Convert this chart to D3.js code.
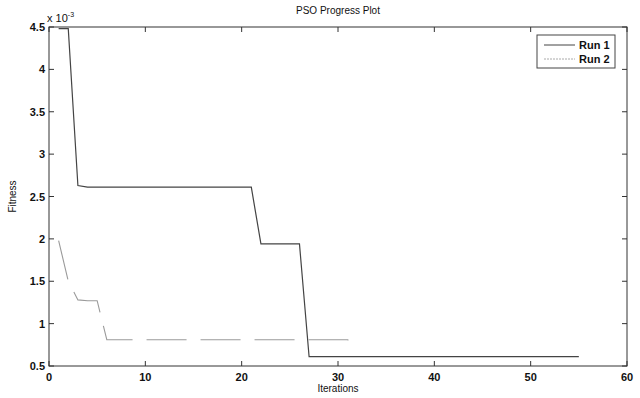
<!DOCTYPE html>
<html><head><meta charset="utf-8">
<script src="https://cdn.jsdelivr.net/npm/d3@7"></script>
<style>body{margin:0;background:#fff}svg text{font-family:"Liberation Sans",Arial,sans-serif;fill:#111}</style>
</head><body><svg id="c" width="640" height="398"></svg>
<script>
const run1X = [1, 2, 3, 4, 21, 22, 26, 27, 55];
const run1Y = [4.48, 4.48, 2.63, 2.61, 2.61, 1.94, 1.94, 0.61, 0.61];
const run2X = [1, 2, 3, 4, 5, 6, 31, 32];
const run2Y = [1.98, 1.50, 1.28, 1.27, 1.27, 0.81, 0.81, 0.74];
const xTicks = [0, 10, 20, 30, 40, 50, 60];
const yTicks = [0.5, 1, 1.5, 2, 2.5, 3, 3.5, 4, 4.5];
const seriesNames = ["Run 1", "Run 2"];

const svg = d3.select("#c");
const L = 49, R = 627, T = 27, B = 366;
const x = d3.scaleLinear().domain([0, 60]).range([L, R]);
const y = d3.scaleLinear().domain([0.5, 4.5]).range([B, T]);

svg.append("rect").attr("x", L).attr("y", T).attr("width", R - L).attr("height", B - T)
  .attr("fill", "none").attr("stroke", "#333").attr("stroke-width", 1);

const tl = 5;
const fmtY = d => d3.format("~g")(d);
// x ticks
xTicks.forEach(t => {
  svg.append("line").attr("x1", x(t)).attr("x2", x(t)).attr("y1", B).attr("y2", B - tl).attr("stroke", "#333");
  svg.append("line").attr("x1", x(t)).attr("x2", x(t)).attr("y1", T).attr("y2", T + tl).attr("stroke", "#333");
  svg.append("text").attr("x", x(t)).attr("y", B + 15).attr("text-anchor", "middle")
    .attr("font-size", 11).attr("font-weight", "bold").text(t);
});
yTicks.forEach(t => {
  svg.append("line").attr("x1", L).attr("x2", L + tl).attr("y1", y(t)).attr("y2", y(t)).attr("stroke", "#333");
  svg.append("line").attr("x1", R).attr("x2", R - tl).attr("y1", y(t)).attr("y2", y(t)).attr("stroke", "#333");
  svg.append("text").attr("x", L - 4).attr("y", y(t) + 4).attr("text-anchor", "end")
    .attr("font-size", 11).attr("font-weight", "bold").text(fmtY(t));
});

// exponent label
const ex = svg.append("text").attr("x", L - 2).attr("y", 22).attr("font-size", 11);
ex.append("tspan").text("x 10");
ex.append("tspan").attr("dy", -5).attr("font-size", 7).text("-3");

svg.append("text").attr("x", (L + R) / 2).attr("y", 14).attr("text-anchor", "middle")
  .attr("font-size", 10).text("PSO Progress Plot");
svg.append("text").attr("x", (L + R) / 2).attr("y", 392).attr("text-anchor", "middle")
  .attr("font-size", 10).text("Iterations");
svg.append("text").attr("transform", `translate(16,${(T + B) / 2}) rotate(-90)`).attr("text-anchor", "middle")
  .attr("font-size", 10).text("Fitness");

const line = d3.line().x(d => x(d[0])).y(d => y(d[1]));
const d1 = run1X.map((v, i) => [v, run1Y[i]]);
const d2 = run2X.map((v, i) => [v, run2Y[i]]);
svg.append("path").attr("d", line(d1)).attr("fill", "none").attr("stroke", "#444").attr("stroke-width", 1.2);
svg.append("path").attr("d", line(d2)).attr("fill", "none").attr("stroke", "#9a9a9a").attr("stroke-width", 1.1)
  .attr("stroke-dasharray", "40,14");

// legend
const lg = svg.append("g");
lg.append("rect").attr("x", 537).attr("y", 35).attr("width", 78).attr("height", 33)
  .attr("fill", "#fff").attr("stroke", "#444");
const styles = [{s: "#444", d: null}, {s: "#aaa", d: "2,1"}];
seriesNames.forEach((n, i) => {
  const yy = 45 + i * 14;
  lg.append("line").attr("x1", 544).attr("x2", 575).attr("y1", yy).attr("y2", yy)
    .attr("stroke", styles[i].s).attr("stroke-dasharray", styles[i].d);
  lg.append("text").attr("x", 579).attr("y", yy + 4).attr("font-size", 11).attr("font-weight", "bold").text(n);
});
</script></body></html>
